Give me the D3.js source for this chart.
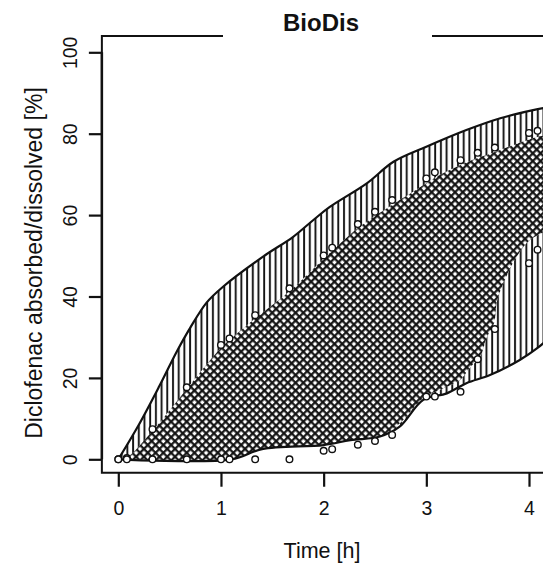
<!DOCTYPE html>
<html>
<head>
<meta charset="utf-8">
<script src="https://cdn.jsdelivr.net/npm/d3@7"></script>
<style>
  body { margin: 0; background: #fff; }
  text { font-family: "Liberation Sans", Arial, sans-serif; fill: #111; }
</style>
</head>
<body>
<svg id="chart" width="543" height="567"></svg>
<script>
// observed time points [h]
const times = [0, 0.083, 0.333, 0.667, 1, 1.083, 1.333, 1.667, 2, 2.083,
               2.333, 2.5, 2.667, 3, 3.083, 3.333, 3.5, 3.667, 4, 4.083];
// upper observed series [%]
const upperObs = [0, 0.3, 7.4, 17.7, 28.1, 29.7, 35.4, 42, 50.1, 52,
                  57.8, 60.8, 63.7, 69, 70.5, 73.5, 75.3, 76.6, 80.2, 80.7];
// lower observed series [%]
const lowerObs = [0, 0, 0, 0, 0, 0, 0, 0, 2.1, 2.5,
                  3.6, 4.5, 6.0, 15.4, 15.4, 16.6, 24.6, 32, 48.2, 51.5];

// outer prediction band (vertical hatching)
const outerUpper = [[0, 0], [0.2, 8.5], [0.4, 18], [0.57, 26.5], [0.70, 32.3],
                    [0.86, 38.5], [1.02, 42.4], [1.41, 49.8], [1.70, 54.6], [1.90, 58.8],
                    [2.06, 62], [2.42, 67.8], [2.68, 73.1], [3.0, 76.8], [3.39, 80.9],
                    [3.72, 83.8], [4.04, 85.8], [4.25, 86.8]];
const outerLower = [[0, 0], [1.1, 0], [1.4, 2.5], [2.0, 3.5], [2.26, 4.7], [2.55, 5.6],
                    [2.74, 8], [2.97, 14.6], [3.2, 16.2], [3.39, 18.7], [3.62, 20.7],
                    [3.91, 24.4], [4.08, 27.3], [4.25, 31]];
// inner band (cross hatching)
const innerUpper = [[0, 0], [0.083, 0.4], [0.333, 7], [0.667, 17.3], [1, 27.4], [1.083, 29.3],
                    [1.333, 34.6], [1.667, 41.3], [2, 49.3], [2.083, 51.2], [2.333, 56.8],
                    [2.5, 59.8], [2.667, 62.5], [3, 67.8], [3.083, 69.2], [3.333, 72.3],
                    [3.5, 74], [3.667, 75.5], [4, 78.6], [4.083, 79.2], [4.25, 80.2]];
const innerLower = [[0.083, 0], [1.1, 0], [1.4, 2.5], [2.0, 3.5], [2.26, 4.7], [2.55, 5.6],
                    [2.74, 8.8], [2.97, 15], [3.2, 17.8], [3.33, 19.5], [3.43, 22.7],
                    [3.52, 25], [3.59, 30], [3.66, 33.5], [3.69, 39], [3.78, 44.9],
                    [3.88, 49.8], [4.01, 53.9], [4.25, 57]];

const xTicks = [0, 1, 2, 3, 4];
const yTicks = [0, 20, 40, 60, 80, 100];

const svg = d3.select("#chart");

let x = d3.scaleLinear().domain([0, 4]).range([118.3, 529]);
let y = d3.scaleLinear().domain([0, 100]).range([459.3, 52.3]);

let frame = {left: x(-0.16), right: x(4.16), top: y(104), bottom: y(-3.3)};

let defs = svg.append("defs");

// vertical hatch
let vpat = defs.append("pattern")
    .attr("id", "vhatch")
    .attr("patternUnits", "userSpaceOnUse")
    .attr("width", 5.7).attr("height", 10);
vpat.append("line")
    .attr("x1", 2).attr("x2", 2).attr("y1", 0).attr("y2", 10)
    .attr("stroke", "#111").attr("stroke-width", 1.9);

// cross hatch at +/-45 degrees
let cs = 5.5;
let cpat = defs.append("pattern")
    .attr("id", "chatch")
    .attr("patternUnits", "userSpaceOnUse")
    .attr("width", cs).attr("height", cs)
    .attr("patternTransform", "rotate(45)");
cpat.append("line")
    .attr("x1", 0).attr("x2", cs).attr("y1", 1.2).attr("y2", 1.2)
    .attr("stroke", "#111").attr("stroke-width", 2.2);
cpat.append("line")
    .attr("x1", 1.2).attr("x2", 1.2).attr("y1", 0).attr("y2", cs)
    .attr("stroke", "#111").attr("stroke-width", 2.2);

defs.append("clipPath").attr("id", "plotclip")
    .append("rect")
    .attr("x", frame.left).attr("y", frame.top)
    .attr("width", frame.right - frame.left).attr("height", frame.bottom - frame.top);

const line = d3.line()
    .x(d => x(d[0]))
    .y(d => y(d[1]))
    .curve(d3.curveCatmullRom);

// closed band path: upper boundary forward, lower boundary back
const bandPath = function (upper, lower) {
    let back = lower.slice().reverse();
    return line(upper) + "L" + line(back).slice(1) + "Z";
}

let plot = svg.append("g").attr("clip-path", "url(#plotclip)");

plot.append("path")
    .attr("d", bandPath(outerUpper, outerLower))
    .attr("fill", "url(#vhatch)");

plot.append("path")
    .attr("d", bandPath(innerUpper, innerLower))
    .attr("fill", "#fff");
plot.append("path")
    .attr("d", bandPath(innerUpper, innerLower))
    .attr("fill", "url(#chatch)");

plot.append("path")
    .attr("d", bandPath(outerUpper, outerLower))
    .attr("fill", "none")
    .attr("stroke", "#111")
    .attr("stroke-width", 2.2)
    .attr("stroke-linejoin", "round");

// observed points
[upperObs, lowerObs].forEach(series => {
    plot.selectAll(null)
        .data(times.map((t, i) => [t, series[i]]))
        .join("circle")
        .attr("cx", d => x(d[0]))
        .attr("cy", d => y(d[1]))
        .attr("r", 3.3)
        .attr("fill", "#fff")
        .attr("stroke", "#111")
        .attr("stroke-width", 1.4);
})

// frame, with a gap behind the title
let frameG = svg.append("g")
    .attr("stroke", "#111").attr("stroke-width", 2).attr("fill", "none");
frameG.append("path")
    .attr("d", `M223,${frame.top}H${frame.left}V${frame.bottom}H${frame.right}`);
frameG.append("path")
    .attr("d", `M432,${frame.top}H${frame.right}`);

// axes
let xAxis = svg.append("g")
    .attr("transform", `translate(0, ${frame.bottom})`)
    .call(d3.axisBottom(x).tickValues(xTicks).tickSize(14).tickPadding(14).tickFormat(d3.format("d")));
xAxis.select(".domain").remove();
xAxis.selectAll("line").attr("stroke", "#111").attr("stroke-width", 2.2);
xAxis.selectAll("text").style("font-size", "19.5px").attr("fill", "#111");

let yAxis = svg.append("g")
    .attr("transform", `translate(${frame.left}, 0)`)
    .call(d3.axisLeft(y).tickValues(yTicks).tickSize(13).tickPadding(0).tickFormat(d3.format("d")));
yAxis.select(".domain")
    .attr("d", `M0,${y(0)}V${y(100)}`)
    .attr("stroke", "#111").attr("stroke-width", 2.5);
yAxis.selectAll("line").attr("stroke", "#111").attr("stroke-width", 2.2);
yAxis.selectAll(".tick text")
    .attr("x", null).attr("dy", null)
    .attr("text-anchor", "middle")
    .attr("transform", "translate(-25,0) rotate(-90)")
    .style("font-size", "19.5px").attr("fill", "#111");

// title and labels
svg.append("text")
    .attr("x", 321).attr("y", 31)
    .attr("text-anchor", "middle")
    .style("font-size", "24px").style("font-weight", "bold")
    .text("BioDis");

svg.append("text")
    .attr("x", 322).attr("y", 558)
    .attr("text-anchor", "middle")
    .style("font-size", "21.5px")
    .text("Time [h]");

svg.append("text")
    .attr("transform", "translate(42, 263) rotate(-90)")
    .attr("text-anchor", "middle")
    .style("font-size", "23px")
    .text("Diclofenac absorbed/dissolved [%]");
</script>
</body>
</html>
